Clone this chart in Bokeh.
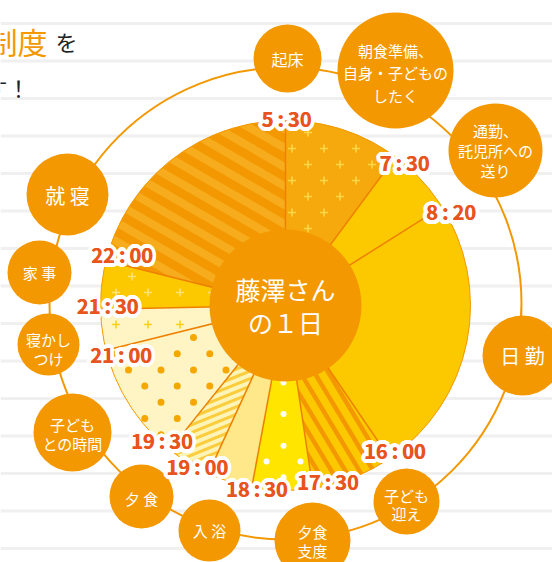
import math
from bokeh.plotting import figure
from bokeh.models import Range1d
from bokeh.core.properties import value
from bokeh.embed import file_html
from bokeh.resources import INLINE

# ---------------- data ----------------
TS = "\u2009:\u2009"
time_labels = [t.replace(":", TS) for t in
               ["5:30", "7:30", "8:20", "16:00", "17:30", "18:30",
                "19:00", "19:30", "21:00", "21:30", "22:00"]]
# boundary angle of each time on the dial (deg, clockwise from top)
boundary_deg = [0.0, 36.5, 57.8, 145.7, 171.5, 190.5, 204.7, 218.7, 256.0, 268.8, 284.0]
activities = ["起床", "朝食準備、\n自身・子どもの\nしたく", "通勤、\n託児所への\n送り", "日 勤",
              "子ども\n迎え", "夕食\n支度", "入 浴", "夕 食", "子ども\nとの時間",
              "寝かし\nつけ", "家 事", "就 寝"]
center_title = ["藤澤さん", "の１日"]
head_line1 = ["制度", "を"]
head_line2 = "す！"

# ---------------- layout / style ----------------
W, H = 552, 562
CX, CY = 285, 305          # pie centre in page pixels
R = 185
RING_C = (285, 303)
RING_R = 236

def P(px, py):
    return px - CX, CY - py

# wedge styles: (base, pattern kind, pattern colour)
wedge_style = [
    ("#f6a90c", "plus", "#ffd84a"),   # 5:30-7:30
    ("#fcc800", None, None),          # 7:30-8:20
    ("#fcc800", None, None),          # 8:20-16:00
    ("#fcc800", "stripeA", "#f39800"),# 16:00-17:30
    ("#ffe500", "dotW", "#ffffff"),   # 17:30-18:30
    ("#fee88a", None, None),          # 18:30-19:00
    ("#fff4b8", "stripeB", "#fbcd3c"),# 19:00-19:30
    ("#fff5c4", "dotO", "#f5a700"),   # 19:30-21:00
    ("#fff5c4", "plus", "#fcd117"),   # 21:00-21:30
    ("#fcc800", "plus", "#ffe27a"),   # 21:30-22:00
    ("#f39800", "stripeS", "#f6ac1c"),# 22:00-5:30
]
stripe_par = {  # direction deg (y up), period, width, phase
    "stripeA": (-59, 12.0, 4.5, 0.0),
    "stripeB": (22, 7.0, 3.0, 0.0),
    "stripeS": (-30, 16.5, 8.0, 0.0),
}

bubble_layout = [  # x, y, radius, font px, line gap, text dy
    (287, 58, 34, 16, 0, 0),
    (395, 70, 58, 15, 22.5, 2),
    (495, 150, 47, 15, 20, 0),
    (522, 355, 40, 20, 0, 0),
    (406, 501, 33, 15, 18, 3),
    (312, 540, 38, 15, 19, 0),
    (209, 530, 31, 15, 0, 0),
    (141, 496, 32, 15, 0, 2),
    (72, 432, 39, 15, 19, 1),
    (48, 344, 31, 15, 19, 4),
    (39, 272, 32, 15, 0, 0),
    (67, 194, 41, 20, 0, 1),
]
label_off = [(1, -2), (9, 6), (9, 5), (5, -8), (15, -7), (5, 1),
             (-11, -7), (-8, -9), (15, 4), (7, -4), (16, -6)]

ORANGE = "#f39800"
LABEL = "#e8541e"
JP = value("Noto Sans CJK JP")

p = figure(width=W, height=H, output_backend="svg", toolbar_location=None,
           x_range=Range1d(-CX, W - CX), y_range=Range1d(CY - H, CY),
           x_axis_type=None, y_axis_type=None, min_border=0,
           outline_line_color=None, background_fill_color="white",
           border_fill_color="white")
p.grid.visible = False

# notebook lines
ys = [CY - (23 + 37.5 * k) for k in range(15)]
p.segment(x0=[-CX] * len(ys), x1=[W - CX] * len(ys), y0=ys, y1=ys,
          line_color="#f0f0f0", line_width=3)

# ring
rx, ry = P(*RING_C)
p.circle(x=[rx], y=[ry], radius=RING_R, fill_color=None, line_color=ORANGE, line_width=2)

# ---------------- wedges ----------------
bounds = boundary_deg + [360.0]

def tdeg(x, y):
    return math.degrees(math.atan2(x, y)) % 360

def inside_w(x, y, a, b, margin):
    r = math.hypot(x, y)
    if r > R - margin or r < 1:
        return False
    span = (b - a) % 360 or 360
    d = (tdeg(x, y) - a) % 360
    m = math.degrees(margin / r)
    return m < d < span - m

def sector_poly(a, b, r, n=80):
    span = (b - a) % 360 or 360
    pts = [(0.0, 0.0)]
    for i in range(n + 1):
        t = math.radians(a + span * i / n)
        pts.append((r * math.sin(t), r * math.cos(t)))
    area = sum(pts[i][0] * pts[(i + 1) % len(pts)][1] - pts[(i + 1) % len(pts)][0] * pts[i][1]
               for i in range(len(pts)))
    if area < 0:
        pts = pts[::-1]
    return pts

def clip(subject, clipper):
    out = subject
    for i in range(len(clipper)):
        A = clipper[i]
        B = clipper[(i + 1) % len(clipper)]
        inp, out = out, []
        if not inp:
            break
        def ins(Pt):
            return (B[0] - A[0]) * (Pt[1] - A[1]) - (B[1] - A[1]) * (Pt[0] - A[0]) >= 0
        def inter(S, E):
            x1, y1 = S; x2, y2 = E; x3, y3 = A; x4, y4 = B
            den = (x1 - x2) * (y3 - y4) - (y1 - y2) * (x3 - x4)
            if den == 0:
                return E
            t = ((x1 - x3) * (y3 - y4) - (y1 - y3) * (x3 - x4)) / den
            return (x1 + t * (x2 - x1), y1 + t * (y2 - y1))
        S = inp[-1]
        for E in inp:
            if ins(E):
                if not ins(S):
                    out.append(inter(S, E))
                out.append(E)
            elif ins(S):
                out.append(inter(S, E))
            S = E
    return out

for i, (base, kind, pc) in enumerate(wedge_style):
    a, b = bounds[i], bounds[i + 1]
    p.wedge(x=[0], y=[0], radius=R, start_angle=[math.radians(90 - b)],
            end_angle=[math.radians(90 - a)],
            direction="anticlock", fill_color=base, line_color=None)
    if kind is None:
        continue
    if kind.startswith("stripe"):
        ang, per, wid, ph = stripe_par[kind]
        u = (math.cos(math.radians(ang)), math.sin(math.radians(ang)))
        n = (-u[1], u[0])
        sec = sector_poly(a, b, R)
        xs, ysl = [], []
        L = 400
        for k in range(-30, 31):
            d0 = k * per + ph
            d1 = d0 + wid
            band = [(n[0] * d0 - u[0] * L, n[1] * d0 - u[1] * L),
                    (n[0] * d0 + u[0] * L, n[1] * d0 + u[1] * L),
                    (n[0] * d1 + u[0] * L, n[1] * d1 + u[1] * L),
                    (n[0] * d1 - u[0] * L, n[1] * d1 - u[1] * L)]
            area = sum(band[j][0] * band[(j + 1) % 4][1] - band[(j + 1) % 4][0] * band[j][1] for j in range(4))
            if area < 0:
                band = band[::-1]
            poly = clip(band, sec)
            if len(poly) >= 3:
                xs.append([q[0] for q in poly])
                ysl.append([q[1] for q in poly])
        if xs:
            p.patches(xs=xs, ys=ysl, fill_color=pc, line_color=None)
    else:
        if kind == "plus":
            ox, oy, dx, dy, mar = 291.5, 148.0, 32.0, 16.0, 5
        elif kind == "dotW":
            ox, oy, dx, dy, mar = 283.0, 382.0, 34.0, 15.8, 4
        else:
            ox, oy, dx, dy, mar = 193.0, 337.0, 32.5, 16.2, 4
        px_, py_ = [], []
        for rr in range(-40, 41):
            yy = oy + rr * dy
            off = 0 if rr % 2 == 0 else dx / 2
            for kk in range(-30, 31):
                xx = ox + off + kk * dx
                x, y = P(xx, yy)
                if inside_w(x, y, a, b, mar):
                    px_.append(x); py_.append(y)
        if kind == "plus":
            p.scatter(x=px_, y=py_, marker="cross", size=8, line_color=pc, line_width=1.6)
        elif kind == "dotW":
            p.scatter(x=px_, y=py_, marker="circle", size=6, fill_color=pc, line_color=None)
        else:
            p.scatter(x=px_, y=py_, marker="circle", size=7, fill_color=pc, line_color=None)

# boundary lines
ex = [R * math.sin(math.radians(t)) for t in boundary_deg]
ey = [R * math.cos(math.radians(t)) for t in boundary_deg]
p.segment(x0=[0] * len(ex), y0=[0] * len(ex), x1=ex, y1=ey, line_color="#ee8000", line_width=1.5)
# outer edge
p.circle(x=[0], y=[0], radius=R, fill_color=None, line_color="#f39800", line_width=1)

# centre disc
p.circle(x=[0], y=[0], radius=76, fill_color=ORANGE, line_color=None)
p.text(x=[0, 0], y=[17, -16], text=center_title, text_align="center", text_baseline="middle",
       text_font=JP, text_font_size="25px", text_color="white")

# bubbles
for (bx, by, br, fs, gap, tdy), name in zip(bubble_layout, activities):
    x, y = P(bx, by)
    p.circle(x=[x], y=[y], radius=br, fill_color=ORANGE, line_color=None)
    lines = name.split("\n")
    nl = len(lines)
    g = gap if gap else fs * 1.3
    tx, ty = [], []
    for j, ln in enumerate(lines):
        tx.append(x)
        ty.append(y - tdy + (nl - 1) / 2 * g - j * g)
    p.text(x=tx, y=ty, text=lines, text_align="center", text_baseline="middle",
           text_font=JP, text_font_size=f"{fs}px", text_color="white")

# time labels with white halo
lx = [ex[i] + label_off[i][0] for i in range(len(ex))]
ly = [ey[i] - label_off[i][1] for i in range(len(ey))]
for rad in (2.0, 4.0):
    for k in range(20):
        t = 2 * math.pi * k / 20
        p.text(x=lx, y=ly, text=time_labels, text_align="center", text_baseline="middle",
               text_font=JP, text_font_size="20px", text_font_style="bold", text_color="white",
               x_offset=rad * math.cos(t), y_offset=rad * math.sin(t))
for off in (0.0, 0.4):
    p.text(x=lx, y=ly, text=time_labels, text_align="center", text_baseline="middle",
           text_font=JP, text_font_size="20px", text_font_style="bold", text_color=LABEL,
           x_offset=off)

# heading fragments (cropped at the left edge)
x1, y1 = P(-13, 40)
p.text(x=[x1], y=[y1], text=[head_line1[0]], text_align="left", text_baseline="middle",
       text_font=JP, text_font_size="30px", text_color=ORANGE)
x2, y2 = P(55, 40)
p.text(x=[x2], y=[y2], text=[head_line1[1]], text_align="left", text_baseline="middle",
       text_font=JP, text_font_size="22px", text_color="#222222")
x3, y3 = P(-15, 86)
p.text(x=[x3], y=[y3], text=[head_line2], text_align="left", text_baseline="middle",
       text_font=JP, text_font_size="22px", text_color="#222222")

open("out.html", "w").write(file_html(p, INLINE))
